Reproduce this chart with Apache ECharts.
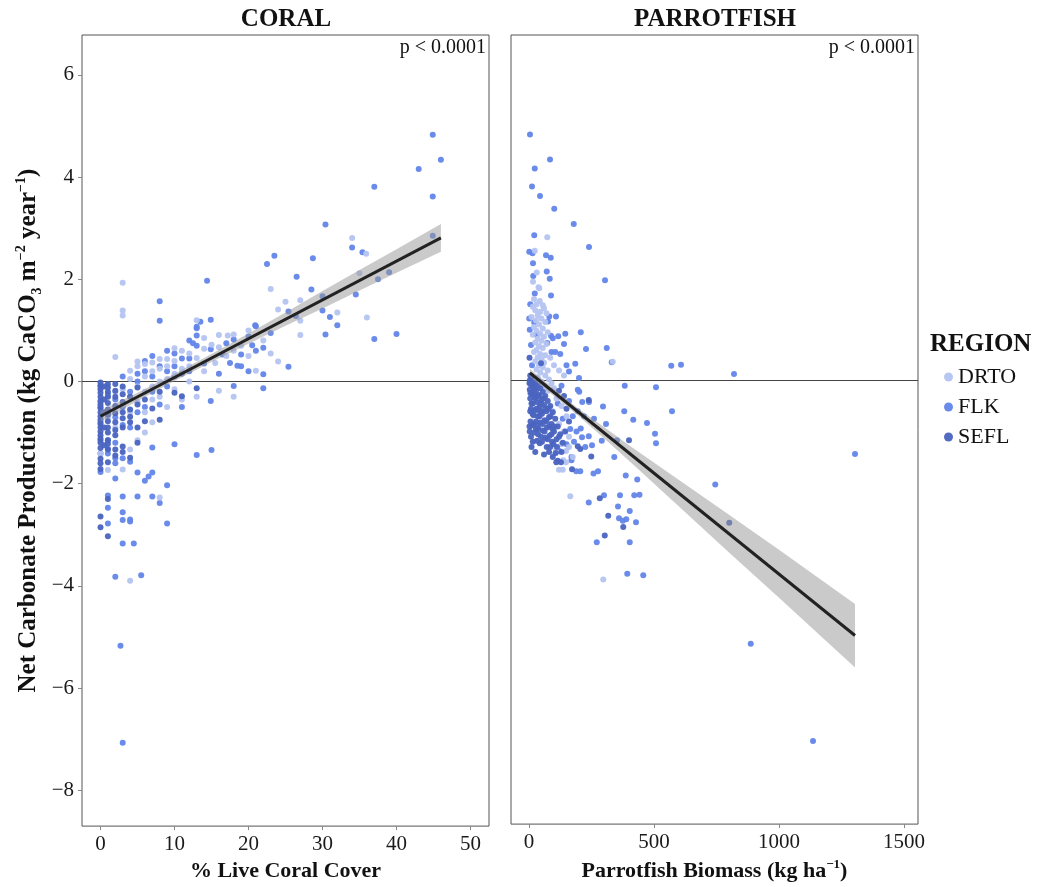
<!DOCTYPE html>
<html>
<head>
<meta charset="utf-8">
<script src="https://cdn.jsdelivr.net/npm/echarts@6/dist/echarts.min.js"></script>
<style>
html,body{margin:0;padding:0;background:#fff;}
#chart{width:1042px;height:887px;}
</style>
</head>
<body>
<div id="chart"></div>
<script>
// point data: [x, net carbonate production]
var coralDRTO=[[0,-0.4],[0,-1.41],[1,-0.3],[1,-0.7],[1,-1.73],[2,0.48],[2,-0.2],[2,-0.5],[2,-0.9],[3,1.93],[3,1.39],[3,1.29],[3,-0.15],[3,-0.45],[3,-1.72],
    [4,0.21],[4,0.05],[4,-0.3],[4,-0.6],[4,-1.33],[4,-3.9],[5,0.39],[5,0.3],[5,-0.1],[5,-0.4],[5,-1.15],[6,0.34],[6,0.1],[6,-0.2],[6,-0.6],[6,-1.0],
    [7,0.37],[7,0.2],[7,-0.1],[7,-0.35],[7,-0.8],[8,0.44],[8,0.25],[8,0],[8,-0.3],[8,-2.27],[9,0.44],[9,0.3],[9,0.05],[9,-0.5],[10,0.65],[10,0.4],[10,0.15],[10,-0.15],
    [11,0.6],[11,0.25],[11,-0.35],[12,0.55],[12,0.3],[12,0],[13,1.2],[13,0.46],[13,-0.3],[14,0.85],[14,0.64],[14,0.2],[15,0.72],[15.5,0.36],[16,0.91],[16,0.67],[16,-0.18],
    [17.2,0.9],[17,0.5],[18,0.92],[18,0.6],[18,-0.3],[19,0.7],[20,0.5],[20,1.0],[21,0.21],[22,0.8],[23,1.81],[23,0.55],[24,1.41],[24,0.39],[25,1.56],[27,1.59],[27,1.19],[27,0.91],
    [32,1.35],[34,2.81],[35,2.12],[35.9,2.5],[36,1.25]];
var coralFLK=[[0,-0.1],[0,-0.5],[0,-0.8],[0,-1.15],[0,-1.41],[0,-1.77],[1,-0.25],[1,-0.6],[1,-1.15],[1,-1.32],[1,-1.41],[1,-2.23],[1,-2.47],[1,-2.78],
    [2,-0.35],[2,-0.7],[2,-1.2],[2,-1.5],[2,-1.6],[2,-1.9],[2,-3.82],[3,0.1],[3,-0.5],[3,-0.85],[3,-1.5],[3,-2.25],[3,-2.56],[3,-2.71],[3,-3.17],
    [4,-0.2],[4,-0.9],[4,-1.57],[4,-2.7],[4,-2.74],[4.5,-3.17],[5,0.15],[5,0],[5,-0.6],[5,-1.78],[5,-2.25],[5.5,-3.79],[6,0.2],[6,0.4],[6,-0.5],[6,-1.94],[6.5,-1.86],
    [7,0.5],[7,0.1],[7,-0.2],[7,-1.29],[7,-1.78],[7,-2.25],[8,1.57],[8,1.19],[8,0.3],[8,-0.45],[8,-2.38],[9,0.6],[9,0.2],[9,-0.1],[9,-2.03],[9,-2.78],
    [10,0.55],[10,0.3],[10,0.1],[10,-1.23],[11,0.45],[11,0.15],[11,-0.5],[12,0.8],[12,0.45],[12,0.2],[12.5,0.75],[13,1.07],[13,1.04],[13,0.9],[13,0.7],[13,-1.44],[13.5,1.17],
    [14.4,1.97],[14,0.35],[14.9,1.21],[14.9,0.63],[14.9,-0.38],[15,-1.34],[16,0.15],[16.5,0.53],[17,0.75],[17.5,0.36],[18,0.82],[18,-0.09],[18.5,0.31],[19,0.53],[19,0.3],
    [20,0.88],[20,0.2],[20.5,0.71],[20.9,1.1],[21,1.08],[21,0.6],[22,0.66],[22,0.14],[22,-0.13],[22.5,2.3],[23,0.95],[23.5,2.46],[25.4,0.29],[25.4,1.37],[26.4,1.28],[26.5,2.05],
    [28.5,1.8],[28.7,2.41],[30,1.67],[30,1.39],[30.4,3.07],[30.4,0.92],[31,1.26],[32,1.1],[34,2.62],[34.5,1.7],[35.4,2.53],[37,3.81],[37,0.83],[37.5,2.0],[39,2.14],[40,0.93],
    [43,4.16],[44.9,4.83],[44.9,3.62],[44.9,2.85],[46,4.34],[2.7,-5.17],[3,-7.07]];
var coralSEFL=[[0,-0.02],[0,-0.08],[0,-0.15],[0,-0.22],[0,-0.3],[0,-0.38],[0,-0.45],[0,-0.52],[0,-0.6],[0,-0.68],[0,-0.75],[0,-0.83],[0,-0.9],[0,-0.98],[0,-1.05],
    [0,-1.12],[0,-1.2],[0,-1.3],[0,-1.51],[0,-1.6],[0,-1.71],[0,-2.64],[0,-2.85],[0.5,-0.1],[0.5,-0.35],[0.5,-0.6],[0.5,-0.9],[0.5,-1.25],
    [1,-0.05],[1,-0.12],[1,-0.2],[1,-0.3],[1,-0.42],[1,-0.55],[1,-0.65],[1,-0.78],[1,-0.9],[1,-1.0],[1,-1.15],[1,-1.22],[1,-1.33],[1,-1.58],[1,-2.3],[1,-3.03],
    [2,-0.05],[2,-0.18],[2,-0.3],[2,-0.48],[2,-0.62],[2,-0.8],[2,-0.95],[2,-1.05],[2,-1.33],[2,-1.45],[3,-0.1],[3,-0.25],[3,-0.4],[3,-0.6],[3,-0.72],[3,-0.9],[3,-1.27],[3,-1.38],
    [4,-0.3],[4,-0.55],[4,-0.69],[4,-0.8],[4,-1.49],[5,-0.12],[5,-0.45],[5,-0.9],[5,-1.2],[6,-0.35],[6,-0.78],[7,-0.53],[8,-0.2],[8,-0.75],[10,-0.22],[11,-0.29],[13,-0.13]];

var parrotDRTO=[[73,2.81],[23,2.55],[31,2.12],[16,1.94],[41,1.81],[38,1.83],[20,1.6],[43,1.56],[30,1.5],[55,1.48],[15,1.45],[60,1.42],[25,1.38],[45,1.35],[70,1.32],
    [35,1.28],[10,1.25],[50,1.22],[28,1.18],[65,1.15],[40,1.1],[20,1.05],[55,1.02],[30,0.98],[75,0.95],[45,0.92],[15,0.9],[60,0.86],[35,0.82],[50,0.78],[25,0.75],
    [70,0.72],[40,0.68],[55,0.64],[30,0.6],[20,0.56],[45,0.52],[65,0.5],[35,0.46],[50,0.42],[25,0.38],[60,0.35],[40,0.3],[55,0.26],[30,0.22],[75,0.2],[45,0.16],
    [65,0.1],[35,0.06],[80,0.02],[50,-0.02],[90,-0.05],[60,-0.1],[100,-0.15],[75,-0.2],[110,-0.35],[130,-0.5],[95,-0.6],[150,-0.7],[120,-0.85],[140,-1.0],[160,-1.1],
    [108,-1.37],[148,-1.38],[96,-1.46],[137,-1.56],[148,-1.6],[120,-1.75],[135,-1.75],[165,-2.27],[297,-3.9],[335,0.37],[160,-1.3],[175,-1.5],[130,-1.25],
    [85,0.45],[100,0.3],[120,0.2],[140,0.1]];
var parrotFLK=[[4,4.83],[84,4.34],[23,4.16],[12,3.81],[44,3.62],[101,3.37],[179,3.07],[21,2.85],[240,2.62],[1,2.53],[14,2.5],[68,2.46],[87,2.41],[16,2.3],[71,2.14],
    [83,2.0],[304,1.97],[17,2.05],[23,1.71],[88,1.67],[81,1.26],[108,1.26],[1,1.22],[21,1.14],[76,1.16],[145,0.92],[207,0.95],[88,0.88],[95,0.83],[117,0.87],[140,0.72],
    [73,0.74],[228,0.62],[311,0.64],[90,0.56],[105,0.56],[125,0.52],[185,0.33],[331,0.36],[569,0.29],[608,0.31],[160,0.18],[200,0.05],[820,0.13],[383,-0.1],[508,-0.13],
    [195,-0.18],[201,-0.22],[240,-0.42],[213,-0.42],[296,-0.51],[381,-0.6],[572,-0.6],[417,-0.77],[472,-0.83],[308,-0.85],[207,-0.94],[504,-1.04],[239,-1.09],[212,-1.11],
    [291,-1.18],[352,-1.17],[508,-1.23],[252,-1.27],[1304,-1.44],[341,-1.5],[170,-1.5],[170,-1.56],[121,-1.38],[276,-1.78],[258,-1.82],[189,-1.78],[205,-1.78],[387,-1.86],
    [433,-1.94],[745,-2.04],[300,-2.25],[364,-2.25],[421,-2.25],[442,-2.24],[239,-2.39],[356,-2.47],[403,-2.56],[360,-2.7],[375,-2.75],[389,-2.72],[428,-2.78],
    [403,-3.17],[271,-3.17],[393,-3.79],[457,-3.82],[887,-5.16],[1136,-7.07],[3,1.0],[8,0.7],[12,0.3],[5,1.5],[30,0.9],[150,0.3],[130,-0.1],[160,-0.4],[175,-0.7],
    [190,-1.0],[220,-0.7],[180,-1.2],[150,-1.25],[115,-0.45],[135,-0.75],[165,-0.95],[225,-1.3],[195,-0.6],[260,-0.75]];
var parrotSEFL=[[5,0.1],[10,0.05],[3,0],[15,-0.02],[25,-0.05],[8,-0.08],[35,-0.1],[18,-0.12],[45,-0.15],[3,-0.18],[28,-0.2],[55,-0.22],[12,-0.25],[40,-0.28],[65,-0.3],
    [22,-0.32],[5,-0.35],[50,-0.38],[75,-0.4],[32,-0.42],[15,-0.45],[60,-0.48],[85,-0.5],[42,-0.52],[8,-0.55],[25,-0.58],[70,-0.6],[95,-0.62],[52,-0.65],[18,-0.68],
    [35,-0.7],[80,-0.72],[105,-0.75],[62,-0.78],[28,-0.8],[45,-0.82],[90,-0.85],[12,-0.88],[115,-0.9],[72,-0.92],[38,-0.95],[55,-0.98],[100,-1.0],[22,-1.02],[125,-1.05],
    [82,-1.08],[48,-1.1],[65,-1.12],[110,-1.15],[32,-1.18],[92,-1.2],[135,-1.22],[43,-1.23],[71,-1.3],[85,-1.3],[107,-1.42],[115,-1.57],[128,-1.6],[109,-1.6],[172,-1.74],
    [48,0.34],[2,0.45],[195,-1.29],[205,-1.34],[249,-1.49],[239,-0.38],[283,-2.31],[317,-2.65],[303,-3.04],[377,-2.87],[400,-1.17],[801,-2.79],[150,-0.55],[160,-0.8],
    [140,-0.3],[120,-0.2],[5,-0.6],[2,-0.9],[10,-1.3],[25,-1.4],[60,-1.45],[145,-1.0],
    [2,-0.05],[6,-0.25],[10,-0.45],[14,-0.65],[18,-0.85],[22,-0.15],[26,-0.35],[30,-0.55],[34,-0.9],[38,-0.3],[42,-0.7],[46,-0.45],[50,-0.6],[54,-0.85],[58,-0.35],
    [62,-1.0],[66,-0.55],[70,-0.8],[74,-1.15],[78,-0.55],[82,-0.9],[86,-0.7],[90,-1.05],[94,-0.95],[98,-1.25],[102,-0.9],[8,-1.1],[15,-1.2],[3,-1.0],[6,-0.8],
    [20,-0.25],[28,-0.95],[36,-1.05],[44,-0.6],[52,-1.2],[120,-1.1],[112,-1.3],[80,-1.4],[95,-1.5],[130,-1.4]];

// fitted lines and confidence ribbons: [x, low, high]
var coralFit=[[0,-0.68],[46,2.81]];
var parrotFit=[[4,0.15],[1304,-5.0]];
var coralBand=[[0,-0.79,-0.57],[5,-0.38,-0.22],[10,0.01,0.15],[15,0.38,0.54],[20,0.74,0.94],[25,1.09,1.35],[30,1.43,1.77],[35,1.78,2.18],[40,2.13,2.59],[46,2.54,3.08]];
var parrotBand=[[4,0.07,0.23],[100,-0.3,-0.16],[200,-0.7,-0.56],[300,-1.13,-0.91],[400,-1.57,-1.27],[600,-2.47,-1.95],[800,-3.37,-2.63],[1000,-4.26,-3.32],[1304,-5.63,-4.38]];

var yTicks=[-8,-6,-4,-2,0,2,4,6];
var coralTicks=[0,10,20,30,40,50];
var parrotTicks=[0,500,1000,1500];

var colDRTO='#b4c3f1', colFLK='#6285e8', colSEFL='#4a64c0';
var serif="'Liberation Serif','Times New Roman',serif";

function minus(v){ return String(v).replace('-','\u2212'); }

function bandSeries(band, idx){
    return {
        type:'custom', xAxisIndex:idx, yAxisIndex:idx, z:3, silent:true,
        data:band,
        renderItem:function(params, api){
            if(params.dataIndex!==0) return;
            var pts=[];
            for(var i=0;i<band.length;i++) pts.push(api.coord([band[i][0],band[i][2]]));
            for(var j=band.length-1;j>=0;j--) pts.push(api.coord([band[j][0],band[j][1]]));
            return {type:'polygon', shape:{points:pts}, style:{fill:'rgba(150,150,150,0.5)'}};
        }
    };
}
function scat(name, data, color, idx){
    return {name:name, type:'scatter', xAxisIndex:idx, yAxisIndex:idx, data:data, symbolSize:6, z:2,
        itemStyle:{color:color, opacity:0.95}};
}
function fitSeries(data, idx){
    return {type:'line', xAxisIndex:idx, yAxisIndex:idx, data:data, symbol:'none', z:4, silent:true,
        lineStyle:{color:'#222', width:3},
        markLine:{silent:true, symbol:'none', z:1, label:{show:false},
            lineStyle:{color:'#444', width:1, type:'solid'}, data:[{yAxis:0}]}};
}
function xAx(idx, min, max, ticks, name){
    return {type:'value', gridIndex:idx, min:min, max:max, splitLine:{show:false},
        axisLine:{show:false, onZero:false},
        axisTick:{show:true, length:4, customValues:ticks, lineStyle:{color:'#888'}},
        axisLabel:{customValues:ticks, margin:8, fontFamily:serif, fontSize:21, color:'#1a1a1a', formatter:function(v){return String(v);}},
        name:name, nameLocation:'middle', nameGap:23,
        nameTextStyle:{fontFamily:serif, fontSize:22, fontWeight:'bold', color:'#111',
            rich:{b:{fontFamily:serif, fontSize:22, fontWeight:'bold', color:'#111', lineHeight:26},
                  sup:{fontFamily:serif, fontSize:13, fontWeight:'bold', color:'#111', verticalAlign:'top', lineHeight:14}}}};
}
function yAx(idx, showLabels){
    return {type:'value', gridIndex:idx, min:-8.7, max:6.78, splitLine:{show:false},
        axisLine:{show:false, onZero:false},
        axisTick:{show:showLabels, length:4, customValues:yTicks, lineStyle:{color:'#888'}},
        axisLabel:{show:showLabels, customValues:yTicks, margin:8, fontFamily:serif, fontSize:21, color:'#1a1a1a', formatter:minus},
        name:showLabels?'{b|Net Carbonate Production (kg CaCO}{sub|3}{b| m}{sup|\u22122}{b| year}{sup|\u22121}{b|)}':'',
        nameLocation:'middle', nameRotate:90, nameGap:38,
        nameTextStyle:{rich:{
            b:{fontFamily:serif, fontSize:25, fontWeight:'bold', color:'#111', lineHeight:30},
            sub:{fontFamily:serif, fontSize:14, fontWeight:'bold', color:'#111', verticalAlign:'bottom', lineHeight:14},
            sup:{fontFamily:serif, fontSize:14, fontWeight:'bold', color:'#111', verticalAlign:'top', lineHeight:14}}}};
}

var chart=echarts.init(document.getElementById('chart'));
chart.setOption({
    backgroundColor:'#fff',
    animation:false,
    grid:[
        {left:82, top:35, width:407, height:814, show:true, borderColor:'#555', borderWidth:1, backgroundColor:'transparent'},
        {left:511, top:35, width:407, height:814, show:true, borderColor:'#555', borderWidth:1, backgroundColor:'transparent'}
    ],
    xAxis:[xAx(0,-2.5,52.5,coralTicks,'% Live Coral Cover'),
           xAx(1,-72,1556,parrotTicks,'{b|Parrotfish Biomass (kg ha}{sup|\u22121}{b|)}')],
    yAxis:[yAx(0,true), yAx(1,false)],
    legend:{data:['DRTO','FLK','SEFL'], orient:'vertical', left:939, top:361, icon:'circle',
        itemWidth:9, itemHeight:9, itemGap:8, selectedMode:false,
        textStyle:{fontFamily:serif, fontSize:22, color:'#111', lineHeight:22}},
    graphic:[
        {type:'text', x:286, y:7, style:{text:'CORAL', font:"bold 25px 'Liberation Serif'", fill:'#111', textAlign:'center'}},
        {type:'text', x:715, y:7, style:{text:'PARROTFISH', font:"bold 25px 'Liberation Serif'", fill:'#111', textAlign:'center'}},
        {type:'text', x:486, y:38, style:{text:'p < 0.0001', font:"20px 'Liberation Serif'", fill:'#111', textAlign:'right'}},
        {type:'text', x:915, y:38, style:{text:'p < 0.0001', font:"20px 'Liberation Serif'", fill:'#111', textAlign:'right'}},
        {type:'text', x:930, y:332, style:{text:'REGION', font:"bold 25px 'Liberation Serif'", fill:'#111'}}
    ],
    series:[
        scat('FLK',coralFLK,colFLK,0), scat('DRTO',coralDRTO,colDRTO,0), scat('SEFL',coralSEFL,colSEFL,0),
        scat('FLK',parrotFLK,colFLK,1), scat('DRTO',parrotDRTO,colDRTO,1), scat('SEFL',parrotSEFL,colSEFL,1),
        bandSeries(coralBand,0), bandSeries(parrotBand,1),
        fitSeries(coralFit,0), fitSeries(parrotFit,1)
    ]
});
</script>
</body>
</html>
